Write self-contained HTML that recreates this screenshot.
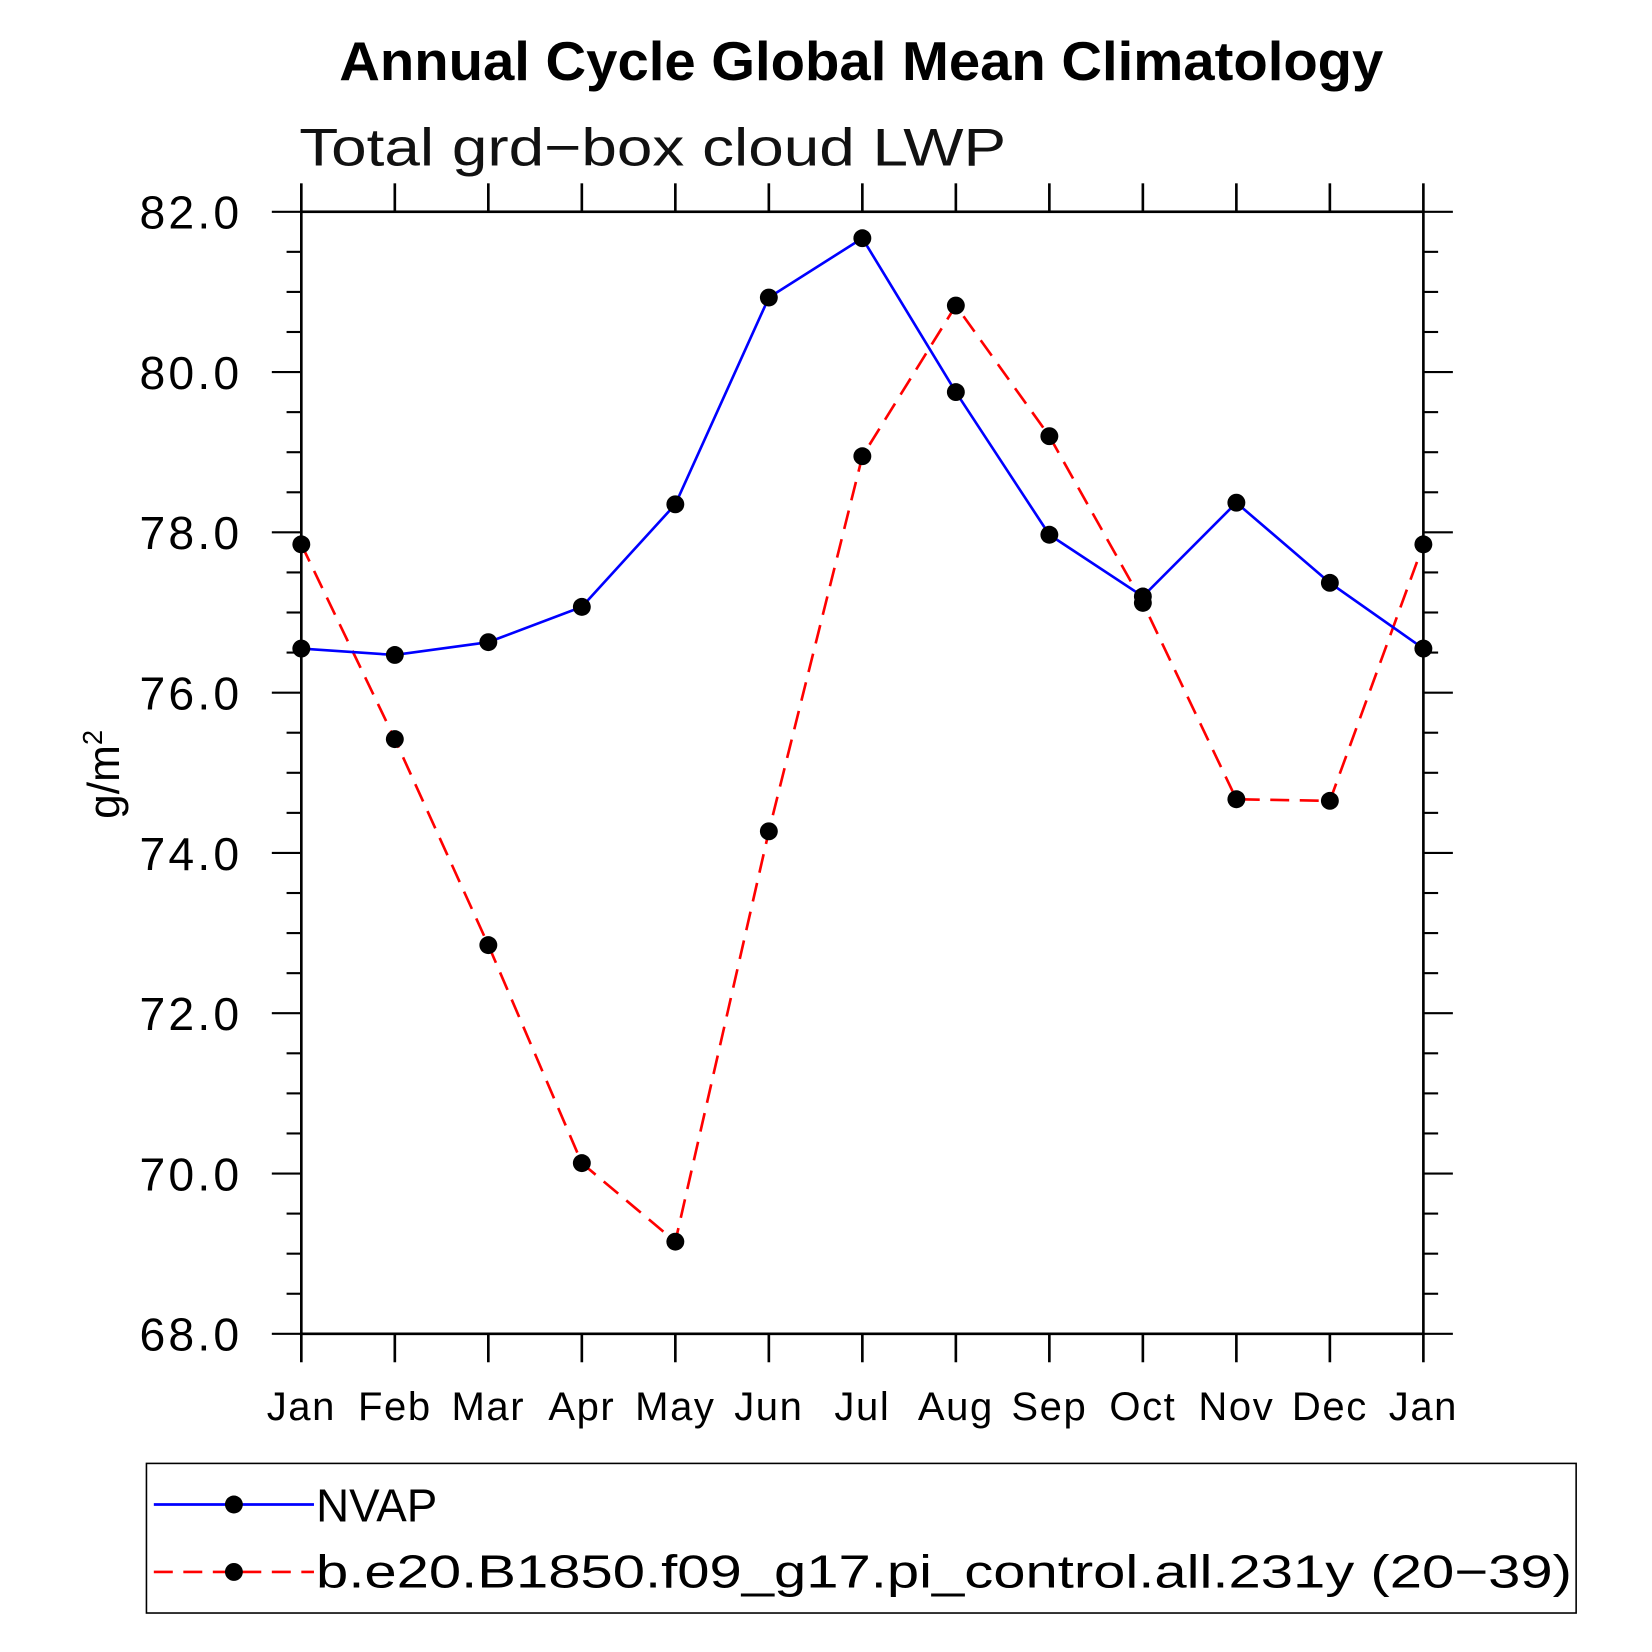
<!DOCTYPE html>
<html><head><meta charset="utf-8"><style>html,body{margin:0;padding:0;background:#fff}svg{display:block}</style></head>
<body>
<svg id="chart" width="1652" height="1652" viewBox="0 0 1568 1568" xmlns="http://www.w3.org/2000/svg" font-family="'Liberation Sans', sans-serif">
<rect width="1568" height="1568" fill="#fff"/>
<text x="322" y="76" textLength="991" lengthAdjust="spacingAndGlyphs" font-size="52" font-weight="bold">Annual Cycle Global Mean Climatology</text>
<text x="284" y="157" textLength="671" lengthAdjust="spacingAndGlyphs" font-size="50" fill="#111">Total grd−box cloud LWP</text>
<text transform="translate(113,735) rotate(-90)" text-anchor="middle" font-size="42">g/m<tspan font-size="26" dy="-16">2</tspan></text>
<g id="axes"></g>
<g id="series"></g>
<g>
<rect x="139" y="1389" width="1357" height="142" fill="none" stroke="#000" stroke-width="1.5"/>
<line x1="146" y1="1428" x2="298" y2="1428" stroke="#00f" stroke-width="2.5"/>
<circle cx="222" cy="1428" r="8.5" fill="#000"/>
<text x="300" y="1444" textLength="115" lengthAdjust="spacingAndGlyphs" font-size="44">NVAP</text>
<line x1="146" y1="1492" x2="298" y2="1492" stroke="#f00" stroke-width="2.5" stroke-dasharray="18,10"/>
<circle cx="222" cy="1492" r="8.5" fill="#000"/>
<text x="300" y="1507" textLength="1192" lengthAdjust="spacingAndGlyphs" font-size="44">b.e20.B1850.f09_g17.pi_control.all.231y (20−39)</text>
</g>
</svg>
<script>
const months = ["Jan","Feb","Mar","Apr","May","Jun","Jul","Aug","Sep","Oct","Nov","Dec","Jan"];
const nvapValues = [76.55,76.47,76.63,77.07,78.35,80.93,81.67,79.75,77.97,77.20,78.37,77.37,76.55];
const modelValues = [77.85,75.42,72.85,70.13,69.15,74.27,78.95,80.83,79.20,77.12,74.67,74.65,77.85];
const yTicks = [68,70,72,74,76,78,80,82];
const yTickLabels = ["68.0","70.0","72.0","74.0","76.0","78.0","80.0","82.0"];
const NS="http://www.w3.org/2000/svg";
const L=286,R=1351,T=201,B=1266,ymin=68,ymax=82;
const xs=i=>L+(R-L)*i/(months.length-1);
const ys=v=>B-(v-ymin)/(ymax-ymin)*(B-T);
function mk(tag,attrs,parent){const e=document.createElementNS(NS,tag);for(const k in attrs)e.setAttribute(k,attrs[k]);parent.appendChild(e);return e;}
const ax=document.getElementById('axes');
const frame=mk('rect',{x:L,y:T,width:R-L,height:B-T,fill:'none',stroke:'#000','stroke-width':2.5},ax);


months.forEach((m,i)=>{
  const x=xs(i);
  const t1=mk('line',{x1:x,y1:T,x2:x,y2:T-27,stroke:'#000','stroke-width':2.5},ax);
  
  
  const t2=mk('line',{x1:x,y1:B,x2:x,y2:B+27,stroke:'#000','stroke-width':2.5},ax);
  
  
  const tx=mk('text',{x:x,y:1348,'text-anchor':'middle','font-size':38,'letter-spacing':1.5},ax);
  tx.textContent=m;
  
  
});
for(let v=ymin;v<=ymax+0.001;v+=0.5){
  const y=ys(v);const major=Math.abs(v-Math.round(v/2)*2)<0.01;
  const len=major?28:14;
  const a=mk('line',{x1:L-len,y1:y,x2:L,y2:y,stroke:'#000','stroke-width':2},ax);
  
  
  const b=mk('line',{x1:R,y1:y,x2:R+len,y2:y,stroke:'#000','stroke-width':2},ax);
  
  
}
yTicks.forEach((v,i)=>{
  const t=mk('text',{x:230,y:ys(v)+16,'text-anchor':'end','font-size':44,'letter-spacing':3},ax);
  t.textContent=yTickLabels[i];
  
  
});
const sg=document.getElementById('series');
function series(vals,color,dash,name){
  const p=mk('polyline',{points:vals.map((v,i)=>xs(i)+','+ys(v)).join(' '),fill:'none',stroke:color,'stroke-width':2.5,'stroke-dasharray':dash},sg);
  
  
  vals.forEach((v,i)=>{
    const c=mk('circle',{cx:xs(i),cy:ys(v),r:8.5,fill:'#000'},sg);
    
    
  });
}
series(modelValues,'#f00','18,10','model');
series(nvapValues,'#00f','none','nvap');
</script>
</body></html>
